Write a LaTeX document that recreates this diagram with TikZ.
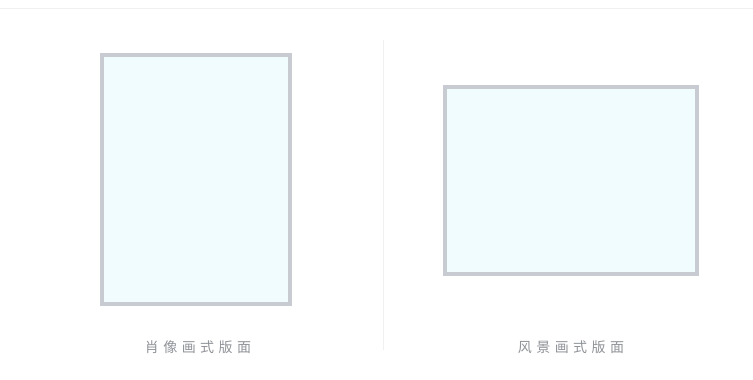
\documentclass[tikz,border=0pt]{standalone}
\usepackage{fontspec}
\newfontfamily\cjk[LetterSpace=32]{Noto Sans CJK SC}
\definecolor{frameg}{HTML}{C8CBD1}
\definecolor{paper}{HTML}{F0FCFE}
\definecolor{labelg}{HTML}{909398}
\definecolor{faint}{HTML}{F0F0F0}
\begin{document}
\begin{tikzpicture}[x=1pt,y=-1pt,
  page/.style={draw=frameg,line width=4pt,fill=paper},
  caption/.style={font=\cjk\fontsize{14}{16}\selectfont,text=labelg,inner sep=0pt}]
\useasboundingbox[fill=white] (0,0) rectangle (753,380);
\draw[faint,line width=1pt] (0,8.5) -- (753,8.5);
\draw[faint,line width=1pt] (383,40) -- (383,350);
\path[page] (102,55) rectangle (290,304);
\path[page] (445,87) rectangle (697,274);
\node[caption] (a) at (198,347) {肖像画式版面};
\node[caption] (b) at (571,347) {风景画式版面};
\end{tikzpicture}
\end{document}
